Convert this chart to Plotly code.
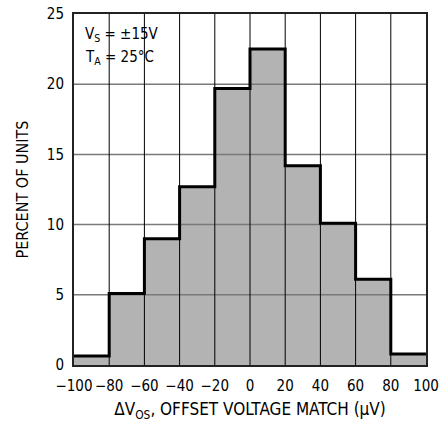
import plotly.graph_objects as go

bin_edges = [-100, -80, -60, -40, -20, 0, 20, 40, 60, 80, 100]
percent_units = [0.64, 5.1, 9.0, 12.7, 19.7, 22.5, 14.2, 10.1, 6.1, 0.78]
x_ticks = [-100, -80, -60, -40, -20, 0, 20, 40, 60, 80, 100]
y_ticks = [0, 5, 10, 15, 20, 25]

FONT = "DejaVu Sans Condensed, Liberation Sans Narrow, sans-serif"

centers = [(a + b) / 2 for a, b in zip(bin_edges[:-1], bin_edges[1:])]
widths = [b - a for a, b in zip(bin_edges[:-1], bin_edges[1:])]

fig = go.Figure()
fig.add_trace(go.Bar(x=centers, y=percent_units, width=widths,
                     marker=dict(color="#b3b3b3", line=dict(width=0)),
                     hoverinfo="skip"))

# horizontal grid (gray)
hx, hy = [], []
for v in y_ticks[1:-1]:
    hx += [x_ticks[0], x_ticks[-1], None]
    hy += [v, v, None]
fig.add_trace(go.Scatter(x=hx, y=hy, mode="lines",
                         line=dict(color="#7a7a7a", width=1.5), hoverinfo="skip"))
# vertical grid (black)
vx, vy = [], []
for v in x_ticks[1:-1]:
    vx += [v, v, None]
    vy += [y_ticks[0], y_ticks[-1], None]
fig.add_trace(go.Scatter(x=vx, y=vy, mode="lines",
                         line=dict(color="#000000", width=1), hoverinfo="skip"))
# histogram outline
fig.add_trace(go.Scatter(x=bin_edges, y=percent_units + [percent_units[-1]],
                         mode="lines", line=dict(color="#000000", width=3, shape="hv"),
                         hoverinfo="skip"))

fig.update_layout(
    width=440, height=422,
    margin=dict(l=74, r=14, t=14, b=57, autoexpand=False),
    paper_bgcolor="white", plot_bgcolor="white",
    showlegend=False,
    bargap=0,
    font=dict(family=FONT, color="#000000"),
    xaxis=dict(range=[-100, 100], tickvals=x_ticks, showgrid=False, zeroline=False,
               showline=True, mirror=True, linecolor="#222222", linewidth=2,
               ticks="", tickangle=0, automargin=False, ticklabelstandoff=6,
               tickfont=dict(size=15, family=FONT),
               title=dict(text="ΔV<sub>OS</sub>, OFFSET VOLTAGE MATCH (μV)",
                          font=dict(size=17, family=FONT), standoff=17)),
    yaxis=dict(range=[0, 25], tickvals=y_ticks, showgrid=False, zeroline=False,
               showline=True, mirror=True, linecolor="#222222", linewidth=2,
               ticks="", automargin=False, tickfont=dict(size=15, family=FONT),
               ticklabelstandoff=5,
               title=dict(text="PERCENT OF UNITS",
                          font=dict(size=16, family=FONT), standoff=14)),
)

fig.add_annotation(x=0.025, y=0.943, xref="paper", yref="paper", xanchor="left",
                   yanchor="middle", showarrow=False, text="V<sub>S</sub> = ±15V",
                   font=dict(size=15, family=FONT))
fig.add_annotation(x=0.025, y=0.877, xref="paper", yref="paper", xanchor="left",
                   yanchor="middle", showarrow=False, text="T<sub>A</sub> = 25°C",
                   font=dict(size=15, family=FONT))

fig.write_html("out.html", config={"displayModeBar": False},
               post_script="document.body.style.margin='0';")
